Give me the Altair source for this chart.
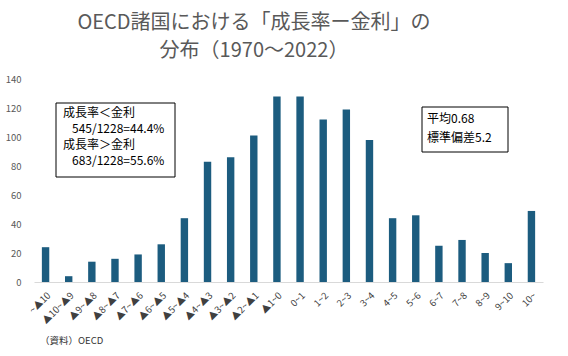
import altair as alt
import pandas as pd

categories = ["~▲10", "▲10~▲9", "▲9~▲8", "▲8~▲7", "▲7~▲6", "▲6~▲5", "▲5~▲4",
              "▲4~▲3", "▲3~▲2", "▲2~▲1", "▲1~0", "0~1", "1~2", "2~3", "3~4",
              "4~5", "5~6", "6~7", "7~8", "8~9", "9~10", "10~"]
counts = [24, 4, 14, 16, 19, 26, 44, 83, 86, 101, 128,
          128, 112, 119, 98, 44, 46, 25, 29, 20, 13, 49]
y_ticks = [0, 20, 40, 60, 80, 100, 120, 140]

title_lines = ["OECD諸国における「成長率ー金利」の", "分布（1970～2022）"]
IND = "\u2800"
box1_lines = ["成長率＜金利", IND + "545/1228=44.4%", "成長率＞金利", IND + "683/1228=55.6%"]
box2_lines = ["平均0.68", "標準偏差5.2"]
source_text = "（資料）OECD"

FONT = "Noto Sans CJK JP"

df = pd.DataFrame({"cat": categories, "n": counts})
one = pd.DataFrame({"k": [0]})

bars = alt.Chart(df).mark_bar(color="#1c5c7f").encode(
    x=alt.X("cat:N", sort=categories,
            scale=alt.Scale(paddingInner=0.68, paddingOuter=0.34),
            axis=alt.Axis(title=None, labelAngle=-45, labelFontSize=9.5,
                          labelColor="#404040", labelFont=FONT, ticks=False,
                          labelPadding=8, domainColor="#d9d9d9", labelAlign="right",
                          labelBaseline="top")),
    y=alt.Y("n:Q", scale=alt.Scale(domain=[0, 140]),
            axis=alt.Axis(title=None, values=y_ticks, grid=False, domain=False,
                          ticks=False, labelPadding=13, labelFontSize=9.5,
                          labelColor="#595959", labelFont=FONT)),
)

def text_layer(txt, x, y, size, color="black", align="left", baseline="middle", lh=None):
    kw = dict(text=txt, fontSize=size, font=FONT, color=color, align=align, baseline=baseline)
    if lh is not None:
        kw["lineHeight"] = lh
    return alt.Chart(one).mark_text(**kw).encode(x=alt.value(x), y=alt.value(y))

def box(x1, x2, y1, y2):
    return alt.Chart(one).mark_rect(fill="white", stroke="black", strokeWidth=1).encode(
        x=alt.value(x1), x2=alt.value(x2), y=alt.value(y1), y2=alt.value(y2))

layers = [bars,
          box(22, 141, 24, 98),
          box(388, 474, 28, 73),
          text_layer(title_lines, 220, -56, 20, "#595959", "center", "middle", 27.5),
          text_layer(box1_lines, 29, 34, 12, "black", "left", "middle", 16),
          text_layer(box2_lines, 393, 40, 12, "black", "left", "middle", 18.5),
          text_layer(source_text, 6, 262, 9.5, "#333333"),
          ]

chart = alt.layer(*layers).properties(
    width=509, height=203,
    autosize=alt.AutoSizeParams(type="none"),
    padding={"left": 34, "top": 79, "right": 25, "bottom": 74},
    background="white",
).configure_view(stroke=None)

chart.save("out.html", embed_options={"renderer": "svg", "actions": False})
